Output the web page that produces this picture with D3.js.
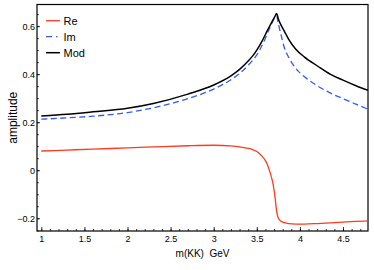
<!DOCTYPE html>
<html>
<head>
<meta charset="utf-8">
<script src="https://cdn.jsdelivr.net/npm/d3@7"></script>
<style>
  body { margin: 0; background: #fff; }
  svg { display: block; font-family: "Liberation Sans", Arial, sans-serif; }
</style>
</head>
<body>
<div id="chart"></div>
<script>
// values
const mass = [1.0, 1.3, 1.6, 2.0, 2.3, 2.7, 3.0, 3.2, 3.3, 3.4, 3.45, 3.5, 3.55, 3.6, 3.62, 3.65, 3.69, 3.71, 3.73,
              3.75, 3.78, 3.82, 3.87, 3.95, 4.05, 4.2, 4.35, 4.5, 4.65, 4.79];
const reVals = [0.080, 0.084, 0.088, 0.093, 0.097, 0.102, 0.104, 0.101, 0.097, 0.091, 0.086, 0.078, 0.062, 0.040, 0.026, -0.005, -0.060, -0.108, -0.170,
                -0.200, -0.212, -0.218, -0.222, -0.224, -0.224, -0.222, -0.219, -0.216, -0.213, -0.211];
const imVals = [0.2125, 0.218, 0.225, 0.240, 0.260, 0.298, 0.338, 0.377, 0.403, 0.437, 0.457, 0.480, 0.512, 0.550, 0.568, 0.592, 0.624, 0.637, 0.642,
                0.610, 0.565, 0.510, 0.470, 0.425, 0.390, 0.352, 0.322, 0.298, 0.275, 0.254];
const modVals = [0.226, 0.233, 0.243, 0.258, 0.278, 0.317, 0.355, 0.393, 0.420, 0.455, 0.475, 0.500, 0.530, 0.565, 0.580, 0.600, 0.627, 0.640, 0.653,
                 0.630, 0.605, 0.578, 0.545, 0.505, 0.472, 0.435, 0.400, 0.375, 0.352, 0.333];
const xTicks = [1, 1.5, 2, 2.5, 3, 3.5, 4, 4.5];
const yTicks = [-0.2, 0, 0.2, 0.4, 0.6];
const seriesNames = ["Re", "Im", "Mod"];

const W = 374, H = 270;
const frame = { left: 37, right: 368, top: 4.5, bottom: 231 };

const svg = d3.select("#chart").append("svg")
    .attr("width", W).attr("height", H);

const x = d3.scaleLinear().domain([0.95, 4.79]).range([frame.left, frame.right]);
const y = d3.scaleLinear().domain([-0.253, 0.69]).range([frame.bottom, frame.top]);

// minor ticks
svg.append("g")
    .attr("transform", `translate(0,${frame.bottom})`)
    .call(d3.axisBottom(x).tickValues(d3.range(1, 4.8, 0.1)).tickSize(-2).tickFormat(""))
    .call(g => g.select(".domain").remove());
svg.append("g")
    .attr("transform", `translate(${frame.left},0)`)
    .call(d3.axisLeft(y).tickValues(d3.range(-0.25, 0.69, 0.05)).tickSize(-1.8).tickFormat(""))
    .call(g => g.select(".domain").remove());

// major ticks
const xAxis = svg.append("g")
    .attr("transform", `translate(0,${frame.bottom})`)
    .call(d3.axisBottom(x).tickValues(xTicks).tickSize(-4).tickPadding(4.5).tickFormat(d3.format("")));
const yAxis = svg.append("g")
    .attr("transform", `translate(${frame.left},0)`)
    .call(d3.axisLeft(y).tickValues(yTicks).tickSize(-3).tickPadding(2).tickFormat(d => d === 0 ? "0" : d3.format(".1f")(d)));

[xAxis, yAxis].forEach(g => {
  g.select(".domain").remove();
  g.selectAll("text").attr("font-size", 9).attr("fill", "#000").attr("font-family", "Liberation Sans, Arial, sans-serif");
});
svg.selectAll(".tick line").attr("stroke", "#000").attr("stroke-width", 0.8);

// frame
svg.append("rect")
    .attr("x", frame.left).attr("y", frame.top)
    .attr("width", frame.right - frame.left).attr("height", frame.bottom - frame.top)
    .attr("fill", "none").attr("stroke", "#000").attr("stroke-width", 1.2);

const line = vals => d3.line()
    .x((d, i) => x(mass[i]))
    .y(d => y(d))
    .curve(d3.curveMonotoneX)(vals);

const styles = {
  Re: { color: "#ff3a1e", width: 1.3, dash: null, vals: reVals },
  Im: { color: "#2f5cff", width: 1.3, dash: "6,3.5", vals: imVals },
  Mod: { color: "#000", width: 1.5, dash: null, vals: modVals }
};

seriesNames.forEach(n => {
  const s = styles[n];
  svg.append("path")
      .attr("d", line(s.vals))
      .attr("fill", "none")
      .attr("stroke", s.color)
      .attr("stroke-width", s.width)
      .attr("stroke-dasharray", s.dash);
});

// legend
seriesNames.forEach((n, i) => {
  const s = styles[n];
  const ly = 20.7 + i * 16;
  svg.append("line")
      .attr("x1", 46).attr("x2", 60).attr("y1", ly).attr("y2", ly)
      .attr("stroke", s.color).attr("stroke-width", s.width)
      .attr("stroke-dasharray", s.dash ? "6,4,1.5,4" : null);
  svg.append("text")
      .attr("x", 63.5).attr("y", ly).attr("dy", "0.36em")
      .attr("font-size", 11).text(n);
});

// axis titles
svg.append("text")
    .attr("x", (frame.left + frame.right) / 2).attr("y", 257)
    .attr("text-anchor", "middle").attr("font-size", 10)
    .text("m(KK)\u00a0 GeV");
svg.append("text")
    .attr("transform", `translate(17,${(frame.top + frame.bottom) / 2}) rotate(-90)`)
    .attr("text-anchor", "middle").attr("font-size", 12)
    .text("amplitude");
</script>
</body>
</html>
